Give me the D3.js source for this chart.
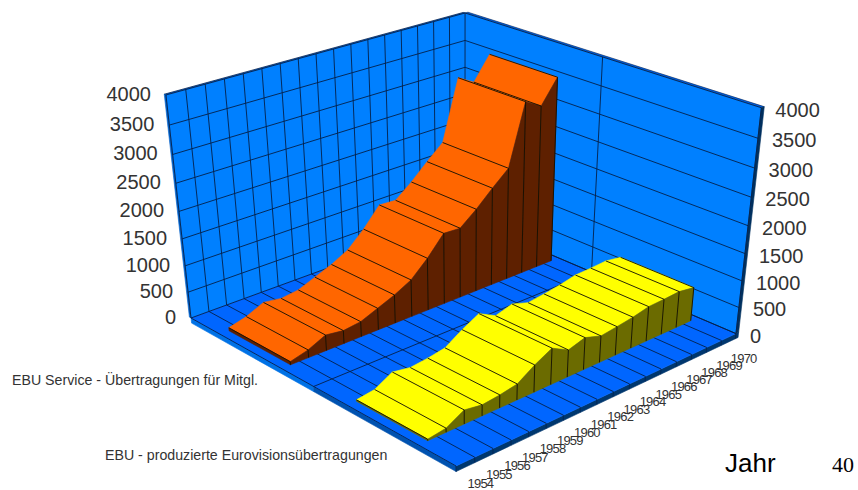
<!DOCTYPE html>
<html>
<head>
<meta charset="utf-8">
<title>EBU Übertragungen 1954–1970</title>
<script src="https://cdn.jsdelivr.net/npm/d3@7"></script>
<style>
  html, body { margin: 0; padding: 0; background: #fff; }
  svg { display: block; }
  text { font-family: "Liberation Sans", Arial, sans-serif; fill: #333; }
</style>
</head>
<body>
<svg id="chart" width="858" height="490"></svg>
<script>
const years = d3.range(1954, 1971);
const seriesNames = [
  "EBU Service - Übertragungen für Mitgl.",
  "EBU - produzierte Eurovisionsübertragungen"
];
const serviceValues = [59, 145, 293, 245, 285, 412, 540, 703, 993, 1347, 1329, 1574, 1859, 2123, 3230, 3062, 3485];
const eurovisionValues = [27, 75, 257, 202, 239, 296, 504, 673, 505, 598, 497, 538, 585, 654, 666, 686, 638];
const valueTicks = [0, 500, 1000, 1500, 2000, 2500, 3000, 3500, 4000];
const seriesValues = [serviceValues, eurovisionValues];

const colors = {
  wall: "#0080ff", floor: "#0066ff", floorLeft: "#0072e6", floorLeftNear: "#0052b0",
  floorFront: "#00376e", wallEdge: "#00305f", wallTop: "#0060e8", grid: "#04204a",
  top: ["#ff6600", "#ffff00"], side: ["#5e2000", "#6b6b00"], line: "#141000"
};

// Scales onto the unit cube of the plot box.
const uScale = d3.scalePoint().domain(years).range([0, 1]).padding(0.5);
const vScale = d3.scaleBand().domain(seriesNames).range([0, 1]).paddingInner(0.5).paddingOuter(0.25);
const hScale = d3.scaleLinear().domain([0, 4000]).range([0, 1]);

// Perspective projection: three vanishing points and the box corner at the origin.
const origin = [191, 318];
const vanishU = [2720, -605], vanishV = [-1455, -601], vanishH = [464, 2750];
const ku = 0.1215, kv = -0.1387, kh = -0.084;
function project(u, v, h) {
  const w = 1 + ku * u + kv * v + kh * h;
  return [0, 1].map(k =>
    (origin[k] + ku * u * vanishU[k] + kv * v * vanishV[k] + kh * h * vanishH[k]) / w);
}

const svg = d3.select("#chart");
const line = d3.line();
function face(g, pts, fill, stroke, width) {
  return g.append("path")
    .attr("d", line(pts.map(p => project(...p))) + "Z")
    .attr("fill", fill)
    .attr("stroke", stroke || fill)
    .attr("stroke-width", width == null ? 0.6 : width)
    .attr("stroke-linejoin", "round");
}
function rule(g, a, b, color, width) {
  return g.append("path")
    .attr("d", line([project(...a), project(...b)]))
    .attr("fill", "none")
    .attr("stroke", color)
    .attr("stroke-width", width || 1);
}

// Plot box: floor slab and the two walls.
const box = svg.append("g");
const slab = -0.025, tu = 0.011, tv = -0.007;
face(box, [[0, 0, 1], [1, 0, 1], [1, tv, 1], [0, tv, 1]], colors.wallTop, colors.grid, 0.8);
face(box, [[1, 0, 1], [1, 1, 1], [1 + tu, 1, 1], [1 + tu, 0, 1]], colors.wallTop, colors.grid, 0.6);
face(box, [[0, 0, 0], [1, 0, 0], [1, 0, 1], [0, 0, 1]], colors.wall);
face(box, [[1, 0, 0], [1, 1, 0], [1, 1, 1], [1, 0, 1]], colors.wall);
face(box, [[0, tv, 0], [0, 0, 0], [0, 0, 1], [0, tv, 1]], "#0060c8");
face(box, [[1, 1, 0], [1 + tu, 1, 0], [1 + tu, 1, 1], [1, 1, 1]], colors.wallEdge);
face(box, [[0, 0, slab], [0, 0.5, slab], [0, 0.5, 0], [0, 0, 0]], colors.floorLeft);
face(box, [[0, 0.5, slab], [0, 1, slab], [0, 1, 0], [0, 0.5, 0]], colors.floorLeftNear);
face(box, [[0, 1, slab], [1 + tu, 1, slab], [1 + tu, 1, 0], [0, 1, 0]], colors.floorFront);
face(box, [[0, 0, 0], [1, 0, 0], [1, 1, 0], [0, 1, 0]], colors.floor);

// Grid lines on the floor and walls.
const grid = svg.append("g");
d3.range(0, years.length + 1).forEach(i => {
  const u = i / years.length;
  rule(grid, [u, 0, 0], [u, 1, 0], colors.grid, 0.9);
  rule(grid, [u, 0, 0], [u, 0, 1], colors.grid, 0.9);
  rule(grid, [u, 1, 0], [u, 1, slab], colors.grid, 0.7);
});
rule(grid, [0, 0.5, 0], [1, 0.5, 0], colors.grid, 0.9);
rule(grid, [1, 0.5, 0], [1, 0.5, 1], colors.grid, 0.9);
rule(grid, [1, 1, 0], [1, 1, 1], colors.grid, 0.9);
valueTicks.forEach(t => {
  const h = hScale(t);
  rule(grid, [0, 0, h], [1, 0, h], colors.grid, 0.9);
  rule(grid, [1, 0, h], [1, 1, h], colors.grid, 0.9);
});

// Ribbon per series, painted from the far year to the near year.
seriesNames.forEach((name, s) => {
  const g = svg.append("g");
  const back = vScale(name), front = back + vScale.bandwidth();
  const values = seriesValues[s];
  for (let i = years.length - 2; i >= 0; i--) {
    const u0 = uScale(years[i]), u1 = uScale(years[i + 1]);
    const h0 = hScale(values[i]), h1 = hScale(values[i + 1]);
    face(g, [[u0, back, h0], [u0, front, h0], [u1, front, h1], [u1, back, h1]], colors.top[s]);
    face(g, [[u0, front, 0], [u1, front, 0], [u1, front, h1], [u0, front, h0]], colors.side[s]);
    rule(g, [u1, front, 0], [u1, front, h1], colors.line, 0.9);
    rule(g, [u1, back, h1], [u1, front, h1], colors.line, 0.9);
  }
  const u = uScale(years[0]), h = hScale(values[0]);
  face(g, [[u, back, 0], [u, front, 0], [u, front, h], [u, back, h]], colors.side[s]);
  rule(g, [u, back, h], [u, front, h], colors.line, 0.9);
  rule(g, [u, front, 0], [u, front, h], colors.line, 0.9);
});

// Value axes on both outer wall edges.
const labels = svg.append("g");
valueTicks.forEach(t => {
  const h = hScale(t);
  const left = project(0, 0, h), right = project(1, 1, h);
  labels.append("text").attr("x", left[0] - 15).attr("y", left[1] + 6)
    .attr("text-anchor", "end").attr("font-size", 20).text(t);
  labels.append("text").attr("x", right[0] + 14).attr("y", right[1] + 9)
    .attr("font-size", 20).text(t);
});

// Year labels along the front floor edge, tightly tracked.
years.forEach(y => {
  const p = project(uScale(y), 1, 0);
  labels.append("text").attr("x", p[0] + 15).attr("y", p[1] + 26)
    .attr("text-anchor", "middle").attr("font-size", 13)
    .attr("letter-spacing", -0.8).text(y);
});

// Series names and captions.
labels.append("text").attr("x", 12).attr("y", 385).attr("font-size", 14.2).text(seriesNames[0]);
labels.append("text").attr("x", 105).attr("y", 460).attr("font-size", 14.2).text(seriesNames[1]);
labels.append("text").attr("x", 725).attr("y", 472).attr("font-size", 26).style("fill", "#000").text("Jahr");
labels.append("text").attr("x", 832).attr("y", 472).attr("font-size", 22)
  .style("font-family", '"Liberation Serif", serif').style("fill", "#000").text("40");
</script>
</body>
</html>
